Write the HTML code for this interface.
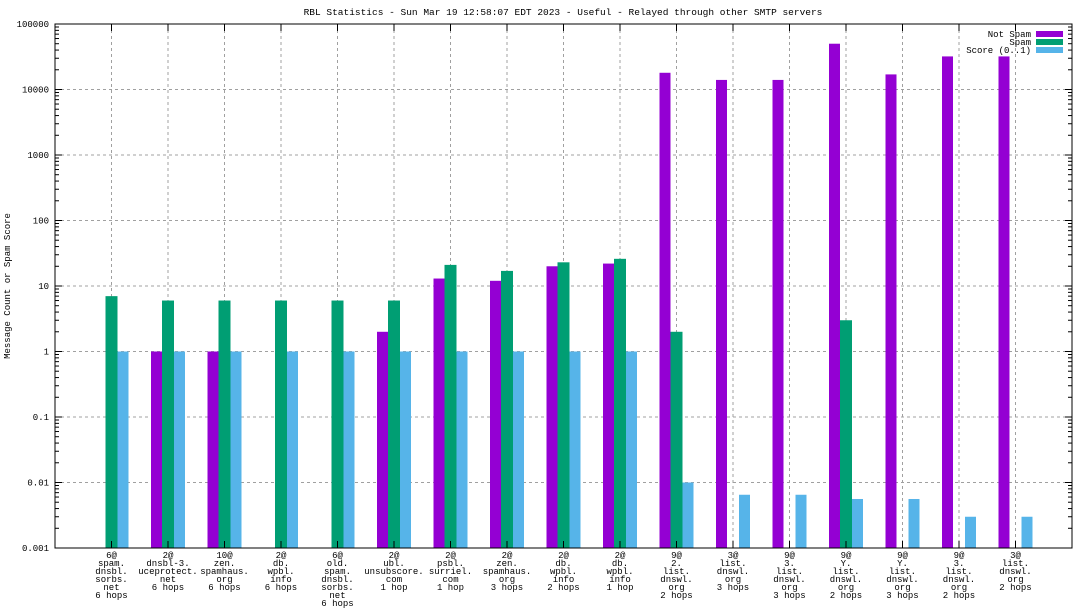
<!DOCTYPE html>
<html><head><meta charset="utf-8"><style>
html,body{margin:0;padding:0;background:#fff;}
svg{display:block;font-family:"Liberation Mono",monospace;}
</style></head><body>
<svg id="chart" width="1088" height="612" viewBox="0 0 1088 612">
<text x="563" y="15" font-size="9.5" text-anchor="middle">RBL Statistics - Sun Mar 19 12:58:07 EDT 2023 - Useful - Relayed through other SMTP servers</text>
<text transform="translate(10,286) rotate(-90)" font-size="9" text-anchor="middle">Message Count or Spam Score</text>
<g id="grid"></g><g id="bars"></g><g id="axes"></g>
<g>
<text x="1031" y="37" font-size="9" text-anchor="end">Not Spam</text>
<rect x="1036" y="31" width="27" height="6" fill="#9400d3"/>
<text x="1031" y="45" font-size="9" text-anchor="end">Spam</text>
<rect x="1036" y="39" width="27" height="6" fill="#009e73"/>
<text x="1031" y="53" font-size="9" text-anchor="end">Score (0..1)</text>
<rect x="1036" y="47" width="27" height="6" fill="#56b4e9"/>
</g>
</svg>
<script>
const categories=[["6@","spam.","dnsbl.","sorbs.","net","6 hops"],["2@","dnsbl-3.","uceprotect.","net","6 hops"],["10@","zen.","spamhaus.","org","6 hops"],["2@","db.","wpbl.","info","6 hops"],["6@","old.","spam.","dnsbl.","sorbs.","net","6 hops"],["2@","ubl.","unsubscore.","com","1 hop"],["2@","psbl.","surriel.","com","1 hop"],["2@","zen.","spamhaus.","org","3 hops"],["2@","db.","wpbl.","info","2 hops"],["2@","db.","wpbl.","info","1 hop"],["9@","2.","list.","dnswl.","org","2 hops"],["3@","list.","dnswl.","org","3 hops"],["9@","3.","list.","dnswl.","org","3 hops"],["9@","Y.","list.","dnswl.","org","2 hops"],["9@","Y.","list.","dnswl.","org","3 hops"],["9@","3.","list.","dnswl.","org","2 hops"],["3@","list.","dnswl.","org","2 hops"]];
const notSpam=[0,1,1,0,0,2,13,12,20,22,18000,14000,14000,50000,17000,32000,32000];
const spam=[7,6,6,6,6,6,21,17,23,26,2,0,0,3,0,0,0];
const score=[1,1,1,1,1,1,1,1,1,1,0.01,0.0065,0.0065,0.0056,0.0056,0.003,0.003];
const yTicks=[0.001,0.01,0.1,1,10,100,1000,10000,100000];
const yTickLabels=["0.001","0.01","0.1","1","10","100","1000","10000","100000"];

const L=55,R=1072,T=24,B=548,NS="http://www.w3.org/2000/svg";
const step=(R-L)/18;
function xs(i){return L+step*(i+1);}
function ys(v){return B-(Math.log10(v)+3)*(B-T)/8;}
function mk(tag,attrs,parent){const e=document.createElementNS(NS,tag);for(const k in attrs)e.setAttribute(k,attrs[k]);parent.appendChild(e);return e;}
const grid=document.getElementById('grid'),bars=document.getElementById('bars'),axes=document.getElementById('axes');
yTicks.forEach((v,i)=>{const y=ys(v);
 if(i>0&&i<yTicks.length-1){const g=mk('line',{x1:L,x2:R,y1:y,y2:y,stroke:'#a0a0a0','stroke-dasharray':'3,3','stroke-width':1},grid);
 
 }
 const t=mk('text',{x:L-6,y:y+3,'font-size':9,'text-anchor':'end'},axes);t.textContent=yTickLabels[i];
 
 
 mk('line',{x1:L,x2:L+7,y1:y,y2:y,stroke:'#000'},axes);mk('line',{x1:R,x2:R-7,y1:y,y2:y,stroke:'#000'},axes);
 if(i<yTicks.length-1){for(let m=2;m<10;m++){const ym=ys(v*m);mk('line',{x1:L,x2:L+4,y1:ym,y2:ym,stroke:'#000'},axes);mk('line',{x1:R,x2:R-4,y1:ym,y2:ym,stroke:'#000'},axes);}}
});
categories.forEach((c,i)=>{const x=xs(i);
 const g=mk('line',{x1:x,x2:x,y1:T,y2:B,stroke:'#a0a0a0','stroke-dasharray':'3,3'},grid);
 
 
 mk('line',{x1:x,x2:x,y1:T,y2:T+7,stroke:'#000'},axes);mk('line',{x1:x,x2:x,y1:B,y2:B-7,stroke:'#000'},axes);
 const t=mk('text',{x:x,'font-size':9,'text-anchor':'middle'},axes);
 
 
 c.forEach((line,j)=>{const ts=mk('tspan',{x:x,y:B+10+j*8},t);ts.textContent=line;});
 [[notSpam,'#9400d3',-17,11,'bar-not-spam'],[spam,'#009e73',-6,12,'bar-spam'],[score,'#56b4e9',6,11,'bar-score']].forEach(s=>{
  const v=s[0][i];if(!(v>0))return;const y=ys(v);
  const r=mk('rect',{x:x+s[2],y:y,width:s[3],height:B-y,fill:s[1]},bars);
  
  
 });
});
const f=mk('rect',{x:L,y:T,width:R-L,height:B-T,fill:'none',stroke:'#000','stroke-width':1},axes);


</script>
</body></html>
